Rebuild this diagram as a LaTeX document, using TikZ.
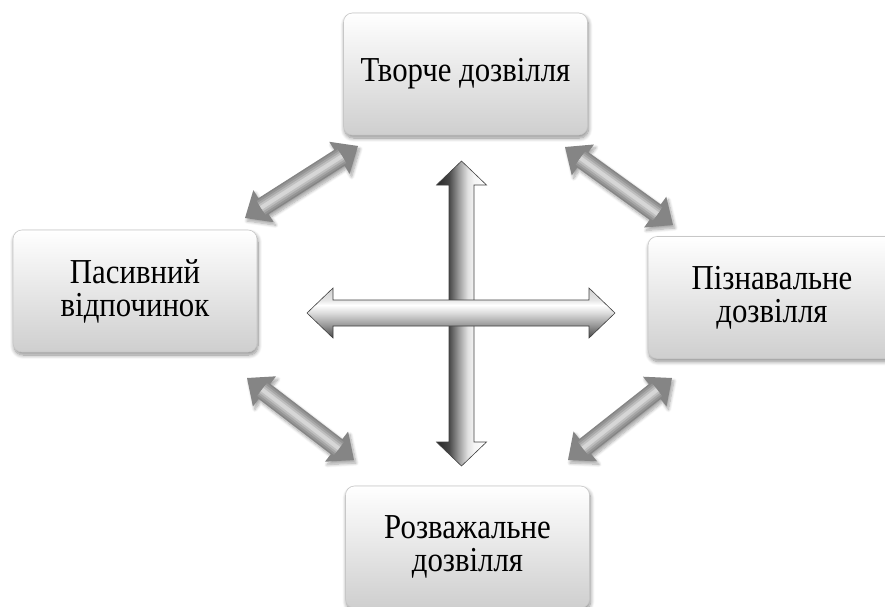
\documentclass[tikz,border=0pt]{standalone}
\usepackage{fontspec}
\setmainfont{Liberation Serif}[FakeStretch=0.88]
\usetikzlibrary{calc,shadows.blur}

% shading of the vertical pillar arrow: dark on the left, light on the right
\pgfdeclarehorizontalshading{pillarshade}{100bp}{%
  color(0bp)=(black!85); color(25bp)=(black!85); color(37.5bp)=(black!72);
  color(47bp)=(black!40); color(56bp)=(black!12); color(62.5bp)=(black!4);
  color(75bp)=(white); color(100bp)=(white)}
% shading of the horizontal beam arrow: light on top, darker at the bottom
\pgfdeclareverticalshading{beamshade}{100bp}{%
  color(0bp)=(black!72); color(25bp)=(black!72); color(38bp)=(black!40);
  color(50bp)=(black!14); color(58bp)=(white); color(63bp)=(black!10);
  color(75bp)=(black!18); color(100bp)=(black!18)}

\tikzset{
  panel/.style={draw=black!22, line width=0.6pt, rounded corners=9pt,
    top color=white, bottom color=black!19,
    minimum width=244pt, minimum height=122pt, inner sep=0pt,
    align=center, font=\fontsize{35}{33}\selectfont,
    blur shadow={shadow xshift=1pt, shadow yshift=-3pt, shadow blur steps=10,
      shadow blur radius=4pt, shadow opacity=45}},
  tubebody/.style={fill=black!48,
    blur shadow={shadow xshift=2pt, shadow yshift=-3pt, shadow blur steps=8,
      shadow blur radius=3pt, shadow opacity=35}},
  crossarrow/.style={draw=black!75, line width=0.6pt},
}

% two-headed arrow between two named points:
% #1 prefix, #2 tail, #3 tip, #4 head length, #5 head half width, #6 shaft half width, #7 style
\newcommand\twoheaded[7]{%
  \coordinate (#1-a) at ($(#2)!#4!(#3)$);
  \coordinate (#1-b) at ($(#3)!#4!(#2)$);
  \path[#7] (#2) -- ($(#1-a)!#5!90:(#2)$) -- ($(#1-a)!#6!90:(#2)$)
    -- ($(#1-b)!#6!-90:(#3)$) -- ($(#1-b)!#5!-90:(#3)$) -- (#3)
    -- ($(#1-b)!#5!90:(#3)$) -- ($(#1-b)!#6!90:(#3)$)
    -- ($(#1-a)!#6!-90:(#2)$) -- ($(#1-a)!#5!-90:(#2)$) -- cycle;
}
% rounded grey tube arrow with a light ridge along its shaft
\newcommand\tubearrow[3]{%
  \twoheaded{#1}{#2}{#3}{22pt}{19pt}{9.5pt}{tubebody}
  \foreach \ww/\tone in {16/42,12/34,8/25,4/16}
    \draw[line width=\ww pt, black!\tone]
      ($(#1-a)!3pt!(#2)$) -- ($(#1-b)!3pt!(#3)$);
}

\begin{document}
\begin{tikzpicture}[x=1pt,y=-1pt]
  \useasboundingbox (0,0) rectangle (885,606);

  % the four kinds of leisure
  \node[panel] (creative) at (465.5,74) {Творче дозвілля};
  \node[panel] (passive) at (135,291) {Пасивний\\відпочинок};
  \node[panel, minimum width=248pt] (cognitive) at (772,297.5) {Пізнавальне\\дозвілля};
  \node[panel] (fun) at (467.5,547) {Розважальне\\дозвілля};

  % end points of the diagonal links
  \coordinate (pc1) at (245,218);  \coordinate (pc2) at (358,146);
  \coordinate (cg1) at (565,147);  \coordinate (cg2) at (673,225);
  \coordinate (pf1) at (247,378);  \coordinate (pf2) at (354,460);
  \coordinate (gf1) at (672,378);  \coordinate (gf2) at (568,460);

  \tubearrow{lnkA}{pc1}{pc2}
  \tubearrow{lnkB}{cg1}{cg2}
  \tubearrow{lnkC}{pf1}{pf2}
  \tubearrow{lnkD}{gf1}{gf2}

  % central cross
  \coordinate (vtop) at (461.5,161);  \coordinate (vbot) at (461.5,466);
  \coordinate (hleft) at (307,313);   \coordinate (hright) at (615,313);
  \twoheaded{pillar}{vtop}{vbot}{24pt}{25pt}{12.5pt}{crossarrow, shading=pillarshade}
  \twoheaded{beam}{hleft}{hright}{26pt}{25pt}{13pt}{crossarrow, shading=beamshade}
\end{tikzpicture}
\end{document}
